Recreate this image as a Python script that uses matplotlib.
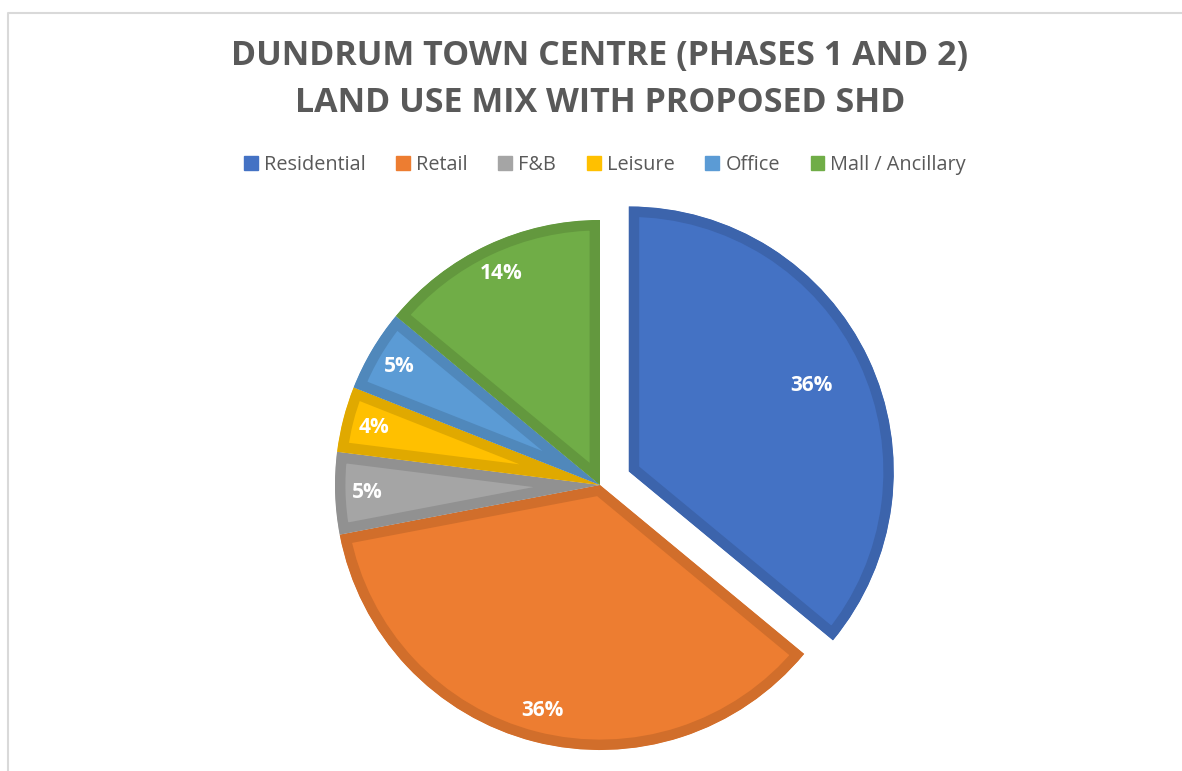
import matplotlib.pyplot as plt
import matplotlib.colors as mcolors
import numpy as np

categories = ["Residential", "Retail", "F&B", "Leisure", "Office", "Mall / Ancillary"]
shares = [36, 36, 5, 4, 5, 14]
colors = ["#4472C4", "#ED7D31", "#A5A5A5", "#FFC000", "#5B9BD5", "#70AD47"]
explode = [0.12, 0, 0, 0, 0, 0]


def darker(c, f=0.88):
    r, g, b = mcolors.to_rgb(c)
    return (r * f, g * f, b * f)


W, H = 1182, 771
fig = plt.figure(figsize=(W / 100, H / 100), dpi=100)

# light frame of the chart area
fig.add_artist(plt.Line2D([8 / W, 8 / W, 1.0], [0, 1 - 12.5 / H, 1 - 12.5 / H],
                          color="#D9D9D9", lw=1.5, transform=fig.transFigure))

# pie placement: centre (600, 485) px, radius 265 px
cx, cy, r = 600, 485, 265
lim = 1.25
size = 2 * lim * r
ax = fig.add_axes([(cx - size / 2) / W, (H - cy - size / 2) / H, size / W, size / H])

wedges, texts, autotexts = ax.pie(
    shares, colors=colors, explode=explode, startangle=90, counterclock=False,
    autopct="%1.0f%%", pctdistance=0.88,
    wedgeprops=dict(linewidth=15, edgecolor="none"),
    textprops=dict(color="white", fontsize=15, fontweight="bold", family="Open Sans"),
)
# border only on the inside of each slice
for w, c in zip(wedges, colors):
    w.set_edgecolor(darker(c))
    w.set_clip_on(True)
    w.set_clip_path(w)

# Excel-like label placement for the exploded slice
mid = np.deg2rad((wedges[0].theta1 + wedges[0].theta2) / 2)
autotexts[0].set_position((0.88 * np.cos(mid), 0.88 * np.sin(mid)))

ax.set_xlim(-lim, lim)
ax.set_ylim(-lim, lim)
ax.set_aspect("equal")
ax.axis("off")

fig.text(600 / W, 1 - 56 / H, "DUNDRUM TOWN CENTRE (PHASES 1 AND 2)", ha="center", va="center",
         fontsize=24.5, fontweight="bold", color="#595959", family="Open Sans")
fig.text(600 / W, 1 - 103 / H, "LAND USE MIX WITH PROPOSED SHD", ha="center", va="center",
         fontsize=24.5, fontweight="bold", color="#595959", family="Open Sans")

handles = [plt.Rectangle((0, 0), 1, 1, color=c) for c in colors]
fig.legend(handles, categories, loc="center", bbox_to_anchor=(605 / W, 1 - 165 / H), ncol=6,
           frameon=False, handlelength=0.7, handleheight=0.7,
           handletextpad=0.3, columnspacing=1.55,
           prop=dict(family="Open Sans", size=14.3), labelcolor="#595959")

fig.savefig("out.png", dpi=100)
